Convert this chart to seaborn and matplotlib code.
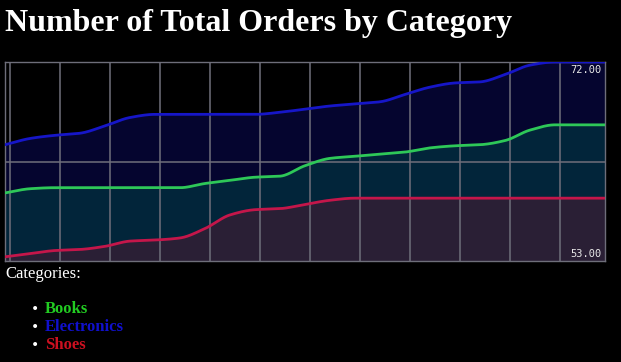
import numpy as np
import pandas as pd
import matplotlib
matplotlib.use("Agg")
import matplotlib.pyplot as plt
import seaborn as sns

categories = ["Books", "Electronics", "Shoes"]
steps = list(range(25))
books = [59.5, 59.9, 60.0, 60.0, 60.0, 60.0, 60.0, 60.0, 60.4, 60.7, 61.0, 61.1, 62.1,
         62.8, 63.0, 63.2, 63.4, 63.8, 64.0, 64.1, 64.5, 65.5, 66.0, 66.0, 66.0]
electronics = [64.1, 64.7, 65.0, 65.2, 65.9, 66.7, 67.0, 67.0, 67.0, 67.0, 67.0, 67.2, 67.5,
               67.8, 68.0, 68.2, 68.9, 69.6, 70.0, 70.1, 70.8, 71.7, 72.0, 72.0, 72.0]
shoes = [53.4, 53.7, 54.0, 54.1, 54.4, 54.9, 55.0, 55.2, 56.1, 57.4, 57.9, 58.0, 58.4,
         58.8, 59.0, 59.0, 59.0, 59.0, 59.0, 59.0, 59.0, 59.0, 59.0, 59.0, 59.0]

line_colors = {"Books": "#2ec858", "Electronics": "#1616c8", "Shoes": "#c4164a"}
fill_colors = {"Books": "#02253a", "Electronics": "#05052f", "Shoes": "#2a1f35"}
label_colors = {"Books": "#22cc22", "Electronics": "#1010cc", "Shoes": "#cc1020"}


def pchip(x, y, xs):
    x = np.asarray(x, float)
    y = np.asarray(y, float)
    h = np.diff(x)
    d = np.diff(y) / h
    m = np.zeros_like(y)
    m[0], m[-1] = d[0], d[-1]
    for k in range(1, len(y) - 1):
        if d[k - 1] * d[k] > 0:
            w1 = 2 * h[k] + h[k - 1]
            w2 = h[k] + 2 * h[k - 1]
            m[k] = (w1 + w2) / (w1 / d[k - 1] + w2 / d[k])
    idx = np.clip(np.searchsorted(x, xs) - 1, 0, len(x) - 2)
    t = (xs - x[idx]) / h[idx]
    h00 = 2 * t**3 - 3 * t**2 + 1
    h10 = t**3 - 2 * t**2 + t
    h01 = -2 * t**3 + 3 * t**2
    h11 = t**3 - t**2
    return h00 * y[idx] + h10 * h[idx] * m[idx] + h01 * y[idx + 1] + h11 * h[idx] * m[idx + 1]


series = {"Books": books, "Electronics": electronics, "Shoes": shoes}
xs = np.linspace(steps[0], steps[-1], 600)
frames = []
for name, vals in series.items():
    frames.append(pd.DataFrame({"step": xs, "orders": pchip(steps, vals, xs), "category": name}))
df = pd.concat(frames, ignore_index=True)

sns.set_style("dark")
plt.rcParams["font.family"] = ["Liberation Serif", "DejaVu Serif"]

W, H = 621, 362
fig = plt.figure(figsize=(W / 100, H / 100), dpi=100, facecolor="black")
ax = fig.add_axes([5 / W, (H - 261) / H, 600 / W, 199 / H])
ax.set_facecolor("black")

# fills: back to front
for name in ["Electronics", "Books", "Shoes"]:
    sub = df[df["category"] == name]
    ax.fill_between(sub["step"], 53, sub["orders"], color=fill_colors[name], lw=0, zorder=1)

sns.lineplot(data=df, x="step", y="orders", hue="category", palette=line_colors,
             hue_order=["Electronics", "Books", "Shoes"], linewidth=2, legend=False,
             ax=ax, zorder=3)

ax.set_xlim(steps[0], steps[-1])
ax.set_ylim(53, 72)
ax.set_xticks([0.2 + 2 * j for j in range(12)])
ax.set_yticks([62.5])
ax.tick_params(length=0, labelbottom=False, labelleft=False)
ax.set_axisbelow(False)
ax.grid(True, color="#6e6e7a", linewidth=1.4, alpha=0.8)
ax.set_xlabel("")
ax.set_ylabel("")
for sp in ax.spines.values():
    sp.set_color("#6e6e7a")
    sp.set_linewidth(1)

ax.text(0.995, 0.985, "72.00", transform=ax.transAxes, ha="right", va="top",
        color="#e8e8e8", fontsize=7.5, family="DejaVu Sans Mono", zorder=5)
ax.text(0.995, 0.01, "53.00", transform=ax.transAxes, ha="right", va="bottom",
        color="#e8e8e8", fontsize=7.5, family="DejaVu Sans Mono", zorder=5)

fig.text(5 / W, 1 - 24 / H, "Number of Total Orders by Category", color="white",
         fontsize=23, fontweight="bold", va="center", ha="left")
fig.text(5 / W, 1 - 274 / H, "Categories:", color="white", fontsize=12, va="center", ha="left")
for i, name in enumerate(categories):
    yy = 1 - (309 + 18 * i) / H
    fig.text(31 / W, yy, "\u2022", color="white", fontsize=10, va="center", ha="left",
             family="DejaVu Sans")
    fig.text(45 / W, yy, name, color=label_colors[name], fontsize=12, fontweight="bold",
             va="center", ha="left")

fig.savefig("out.png", dpi=100, facecolor="black")
